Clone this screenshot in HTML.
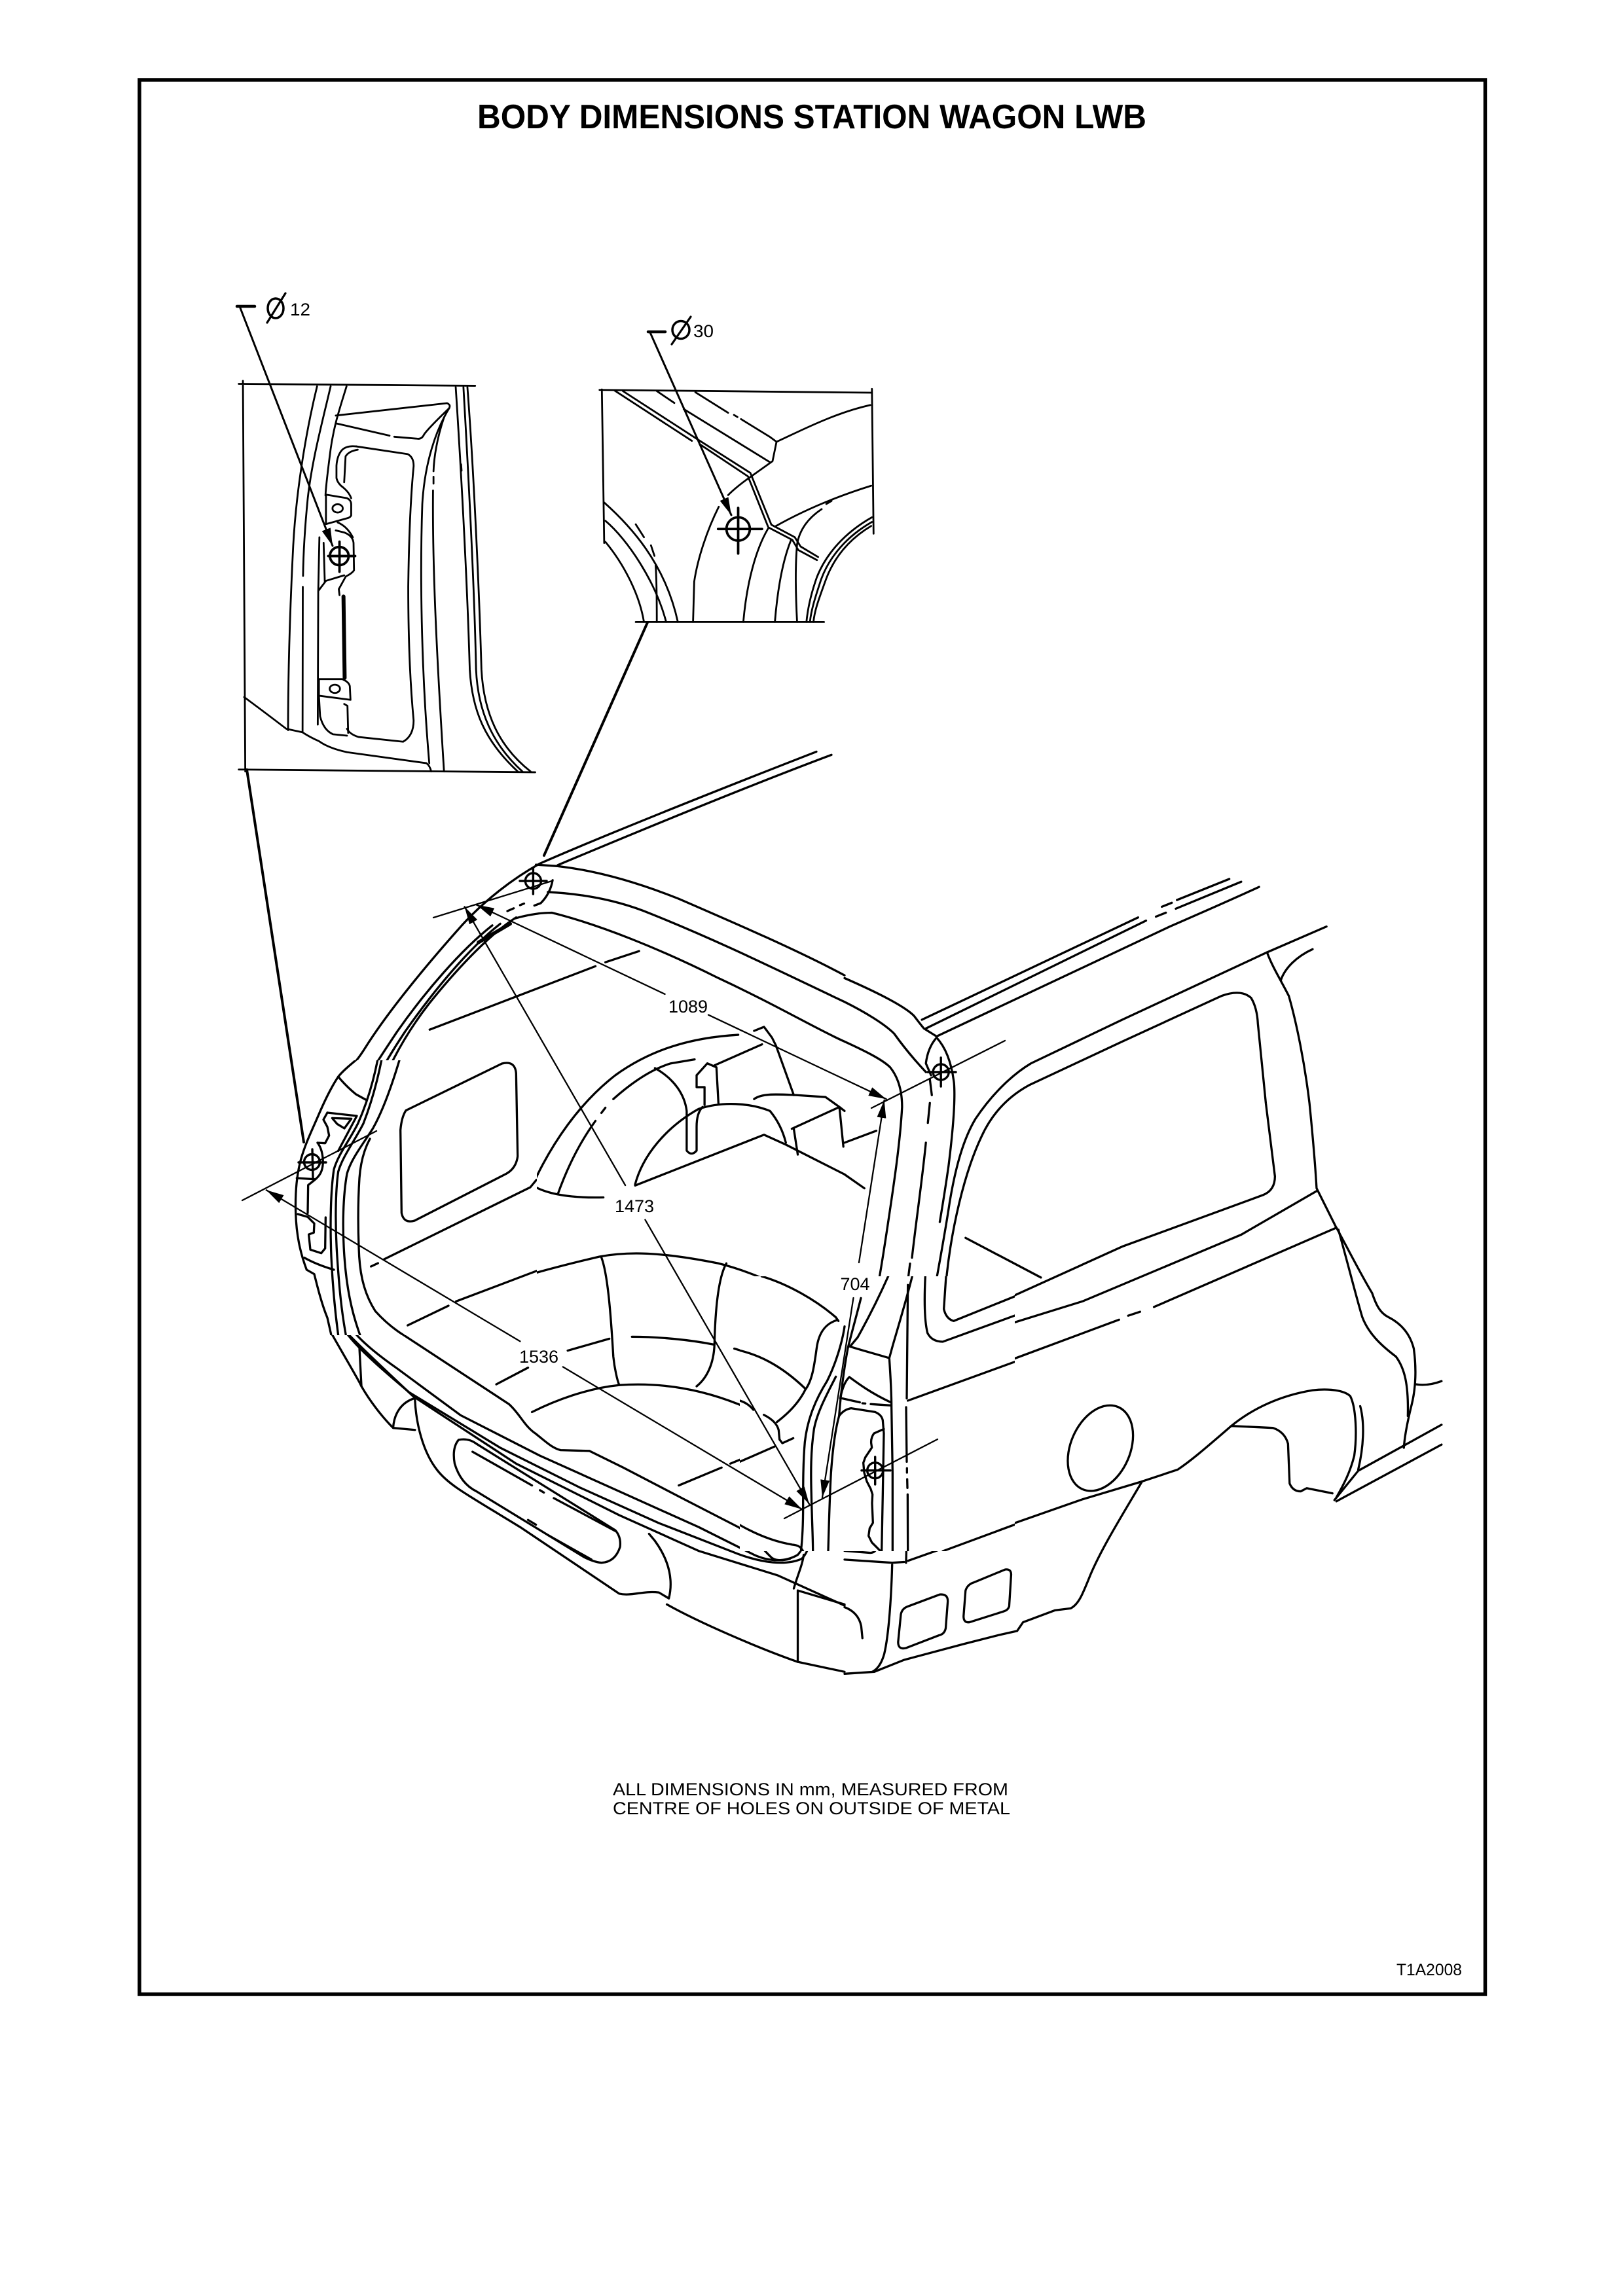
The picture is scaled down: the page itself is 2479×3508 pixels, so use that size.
<!DOCTYPE html>
<html><head><meta charset="utf-8">
<style>
html,body{margin:0;padding:0;background:#fff;}
svg{display:block;}
.s path,.s ellipse,.s circle,.s line{fill:none;stroke:#000;stroke-width:3.3;stroke-linejoin:round;stroke-linecap:round;vector-effect:non-scaling-stroke;}
.i path,.i ellipse,.i circle{stroke-width:2.8;}
.d path{stroke-width:2.3;}
text{font-family:"Liberation Sans",Arial,sans-serif;fill:#000;}
</style></head><body>
<svg width="2479" height="3508" viewBox="0 0 2479 3508" xmlns="http://www.w3.org/2000/svg">
<defs>
<marker id="ar" markerUnits="userSpaceOnUse" markerWidth="32" markerHeight="16" refX="27" refY="7" orient="auto-start-reverse"><path d="M0,0 L27,7 L0,14 Z" fill="#000" stroke="none"/></marker>
<clipPath id="cx"><path clip-rule="evenodd" d="M0,0H2479V3508H0Z M400,1620H820V2040H400Z M1130,1950H1550V2370H1130Z"/></clipPath>
<clipPath id="c11"><rect x="1130" y="1950" width="420" height="420"/></clipPath>
<clipPath id="c12"><rect x="400" y="1620" width="420" height="420"/></clipPath>
</defs>
<rect x="0" y="0" width="2479" height="3508" fill="#fff"/>
<rect x="213" y="122" width="2055.5" height="2925" fill="none" stroke="#000" stroke-width="5.5"/>

<text x="1240" y="196" font-size="52" font-weight="bold" text-anchor="middle" textLength="1022" lengthAdjust="spacingAndGlyphs">BODY DIMENSIONS STATION WAGON LWB</text>

<!-- Inset 1 -->
<g class="s i" transform="translate(330,560) scale(0.357143,0.420875)">
<path d="M97,63 L1108,70 M115,52 L125,1470 M97,1463 L1365,1473"/>
<path d="M432,72 C395,200 345,420 330,650 C315,900 308,1100 308,1320"/>
<path d="M490,72 C455,200 410,340 392,480 C378,600 373,700 372,760 M371,800 L370,1325"/>
<path d="M558,72 C530,150 505,210 490,300 C478,380 470,430 468,468"/>
<path d="M512,178 L988,133 Q1006,140 996,152 C960,182 910,222 890,246 Q880,265 860,262 L762,255 M742,251 L512,206"/>
<path d="M470,465 L560,478 Q578,485 578,500 L578,540 Q575,548 560,551 L470,572 Z"/>
<ellipse cx="520" cy="515" rx="22" ry="15"/>
<path d="M600,290 L820,318 Q846,330 845,362 C835,450 825,600 822,800 C822,1000 830,1150 845,1285 Q845,1340 800,1362 L610,1345 Q572,1335 560,1315"/>
<path d="M600,290 Q560,286 540,302 Q518,322 515,360 L515,405 Q520,425 545,440 Q570,458 578,478"/>
<path d="M606,302 Q568,307 554,326 L548,420"/>
<path d="M512,595 L550,603 Q585,615 588,640 L590,740 Q580,752 555,762 L525,808 L528,830"/>
<path d="M520,566 Q560,580 585,620"/>
<path d="M442,620 L437,820 L435,1300 M460,640 L465,780 M437,815 L470,778 L548,758"/>
<path d="M545,835 L550,1130" style="stroke-width:6"/>
<path d="M440,1135 L540,1135 Q568,1145 572,1160 L575,1210 L440,1195 Z"/>
<ellipse cx="508" cy="1170" rx="22" ry="15"/>
<path d="M440,1195 L445,1270 Q460,1320 500,1335 L560,1340 M548,1225 L562,1232 L565,1330"/>
<path d="M120,1200 Q200,1250 300,1315 L370,1328 Q400,1345 440,1360 Q480,1385 560,1400 L900,1440 Q915,1450 920,1470"/>
<path d="M1025,75 C1050,400 1075,800 1085,1100 C1095,1250 1150,1360 1290,1470"/>
<path d="M1058,75 C1080,400 1105,800 1112,1100 C1120,1250 1180,1370 1310,1470"/>
<path d="M1075,75 C1100,350 1125,800 1135,1100 C1145,1260 1210,1380 1345,1470"/>
<path d="M998,150 C940,230 892,350 882,500 C870,800 882,1150 912,1440"/>
<path d="M975,185 C945,260 932,330 930,380 M930,400 L930,425 M928,450 C925,700 940,1000 975,1470"/>
<path d="M1048,355 L1050,378"/>
<ellipse cx="527" cy="688" rx="40" ry="33" style="stroke-width:3.8"/>
<path d="M480,688 L595,688 M528,636 L528,745" style="stroke-width:3.8"/>
</g>

<!-- Inset 2 -->
<g class="s i" transform="translate(880,460) scale(0.357143)">
<path d="M100,380 L1265,392 M110,378 L120,1035 M1265,376 L1272,995 M255,1373 L1060,1373"/>
<path d="M165,383 L495,598 M200,385 L520,592"/>
<path d="M520,592 L745,735 L835,957 L935,1010 L960,1050 L1035,1095"/>
<path d="M528,612 L735,750 L822,968 L925,1022 L950,1065 L1030,1108"/>
<path d="M345,385 L420,436"/>
<path d="M510,390 L650,478 M675,487 L690,496 M705,505 L830,582 L857,602"/>
<path d="M857,602 L840,685 L760,742 M857,602 C950,560 1100,480 1258,445"/>
<path d="M460,462 L830,690"/>
<path d="M760,742 Q690,790 650,830"/>
<path d="M1262,790 C1150,825 1000,880 850,965"/>
<path d="M1092,855 L1070,868 M1050,890 C990,930 955,980 945,1040 C935,1150 940,1280 945,1373"/>
<path d="M918,1025 C880,1120 860,1250 850,1373"/>
<path d="M1265,925 C1150,990 1070,1080 1030,1180 C1005,1250 990,1320 985,1373"/>
<path d="M1265,945 C1160,1005 1085,1090 1048,1190 C1025,1260 1005,1320 1000,1373"/>
<path d="M1262,962 C1165,1020 1100,1100 1065,1200 C1040,1270 1020,1320 1015,1373"/>
<path d="M820,975 C770,1060 730,1200 715,1373"/>
<path d="M610,880 C560,980 520,1100 505,1200 L500,1373"/>
<path d="M120,862 C230,960 380,1120 435,1373"/>
<path d="M125,940 C220,1020 340,1200 385,1373"/>
<path d="M125,1030 C200,1120 270,1250 290,1373"/>
<path d="M255,955 L290,1010 M320,1045 L335,1090 M340,1130 C345,1200 345,1300 345,1373"/>
<circle cx="693" cy="975" r="50" style="stroke-width:3.8"/>
<path d="M607,975 L795,975 M693,885 L693,1080" style="stroke-width:3.8"/>
</g>

<!-- Car body main groups -->
<g clip-path="url(#cx)">
<g class="s" transform="translate(340,1140) scale(0.605867)">
<path d="M1497,14 C1250,110 950,230 800,296 C730,335 660,390 605,450 C520,545 420,665 360,760 C335,800 315,820 295,830"/>
<path d="M1535,22 C1300,110 1000,235 845,300"/>
<path d="M790,299 L850,303"/>
<path d="M848,303 C950,315 1050,345 1150,385 C1300,450 1450,515 1568,578"/>
<path d="M820,368 C900,372 980,385 1060,415 C1250,490 1420,575 1568,645"/>
<path d="M832,338 Q826,372 802,396 L786,402"/>
<path d="M735,435 C770,425 800,420 830,420 C950,450 1100,510 1250,585 C1400,655 1500,715 1568,745"/>
<path d="M718,416 L734,409 M750,401 L760,397"/>
<path d="M740,432 C680,470 600,550 520,650 C450,740 400,840 375,930 C355,1010 348,1060 347,1089"/>
<path d="M700,448 C620,510 530,620 460,720 C400,810 340,920 318,1000 C305,1040 298,1070 297,1089"/>
<path d="M680,452 C600,515 510,620 440,720 C380,810 320,900 292,980 C282,1030 278,1060 277,1089"/>
<path d="M645,495 L725,448" style="stroke-width:5.5"/>
<path d="M522,715 L940,555 M965,545 L1050,517"/>
<path d="M780,1110 C830,1000 900,900 990,830 C1080,765 1180,735 1300,728"/>
<path d="M845,1130 C870,1060 900,1000 940,945 M955,925 L965,912 M985,890 C1030,850 1080,815 1130,800 L1190,790"/>
<path d="M785,1110 C820,1130 880,1140 960,1138"/>
<path d="M1040,1105 C1060,1030 1120,960 1200,915 C1260,895 1330,900 1380,920 C1405,950 1415,980 1420,1000"/>
<path d="M1090,812 C1140,840 1165,880 1170,920 L1170,1020 Q1182,1035 1195,1020 L1195,960 C1195,935 1200,920 1210,910"/>
<path d="M1040,1108 L1365,980 L1420,1005 L1568,1080"/>
<path d="M1195,830 L1222,800 L1245,810 L1250,900 M1195,830 L1195,860 L1215,860 L1215,905 M1240,805 L1360,752 M1340,718 L1365,708 L1385,735 L1395,755 L1440,880 M1340,890 C1360,875 1400,878 1445,880 L1520,885 L1555,910 L1568,920 M1435,965 L1555,910 M1440,965 L1450,1030 M1555,910 L1565,1010"/>
</g>

<g class="s" transform="translate(1290,1140) scale(0.605867)">
<path d="M195,690 L740,432 M800,405 L825,395 M838,388 L970,335"/>
<path d="M205,712 L760,440 M785,430 L810,420 M835,410 L1000,342"/>
<path d="M232,732 L820,455 C900,420 980,385 1045,355"/>
<path d="M0,585 C80,620 150,655 175,680 Q190,700 200,712 L232,732"/>
<path d="M0,645 C50,670 100,700 125,725 C150,760 175,790 205,822"/>
<path d="M232,735 Q210,760 205,800 L218,830"/>
<path d="M0,745 C50,768 95,790 115,810 C135,835 145,870 145,910 C140,1000 125,1100 110,1200 C95,1300 80,1400 60,1460 Q40,1500 15,1515"/>
<path d="M232,735 C255,760 270,800 276,850 C280,900 272,980 262,1060 C252,1130 245,1170 240,1200"/>
<path d="M1215,455 L1065,520 L700,690 L470,800 C420,830 370,880 330,940 C300,990 280,1060 265,1150 C250,1250 230,1350 215,1440 Q210,1490 245,1510 L600,1400 L1000,1232 L1190,1122"/>
<path d="M280,1445 Q255,1440 250,1415 L258,1330 C270,1220 300,1080 345,985 C370,930 410,885 465,855 L700,745 L950,630 Q1000,612 1025,635 Q1040,660 1042,700 L1062,900 L1085,1085 Q1085,1120 1055,1132 L700,1262 L400,1398 Z"/>
<path d="M1065,520 C1080,560 1100,590 1120,630 C1140,700 1160,800 1172,900 C1182,1000 1188,1080 1190,1115 L1200,1135 L1240,1215"/>
<path d="M1100,590 C1110,560 1140,530 1180,512"/>
<path d="M305,1240 L495,1340"/>
<path d="M0,1000 L80,970 M0,1080 L50,1115"/>
<path d="M215,840 L220,880 M215,900 L210,950 M205,1000 C195,1100 180,1200 170,1290 M165,1305 L160,1345 M158,1360 L155,1568"/>
</g>

<g class="s" transform="translate(340,1800) scale(0.605867)">
<path d="M345,0 L350,260 C360,300 390,340 440,385 L600,490 L722,570 C750,595 760,625 790,645 C815,665 830,680 852,686 L925,688 L1010,730 L1160,808 L1300,880 C1340,905 1360,935 1385,958 Q1400,968 1430,960"/>
<path d="M297,0 L300,330 C310,370 340,410 440,480 L600,598 L800,700 L1000,790 L1200,880 L1340,950 C1380,968 1420,968 1450,950 C1468,930 1475,900 1475,850 L1478,780"/>
<path d="M277,0 L280,330 C300,390 340,430 470,540 L700,680 L900,780 L1100,870 L1300,948 C1360,970 1420,978 1460,960 C1480,940 1488,900 1488,850 L1490,780"/>
<path d="M255,0 L265,330 C290,370 320,400 480,550 L740,720 L1000,850 L1200,940 L1400,1002 L1568,1078"/>
<path d="M185,0 L185,90 C190,140 200,190 215,230 C230,290 250,330 268,380 C290,420 320,470 345,515 L350,525"/>
<path d="M345,430 L350,525 C370,560 400,600 430,630 M430,630 C432,595 450,565 485,555 M430,630 L485,635"/>
<path d="M485,560 C488,620 505,690 540,735 C570,775 620,800 750,880 L1000,1048 C1030,1055 1060,1040 1100,1045 L1125,1060 C1135,1020 1130,970 1090,915 L1075,897"/>
<path d="M1120,1075 C1200,1120 1350,1185 1450,1220 L1568,1245"/>
<path d="M1450,1040 L1450,1220 M1440,1035 C1450,1000 1462,975 1465,950 M1450,1040 L1568,1075"/>
<path d="M595,660 Q620,655 640,670 L990,888 Q1005,905 1002,930 Q990,968 955,970 Q935,968 910,955 L640,790 Q600,770 585,720 Q578,680 595,660 Z"/>
<path d="M630,690 L780,775 M800,787 L810,793 M835,807 L990,890 M770,862 L790,874 M820,900 L930,962"/>
<path d="M590,310 C650,280 750,245 950,198 C1020,185 1100,185 1250,215 C1350,240 1450,290 1550,355"/>
<path d="M780,590 C840,560 920,530 1000,522 C1100,515 1200,530 1300,570 C1350,590 1380,610 1400,625"/>
<path d="M955,200 C970,240 978,330 985,450 C988,480 995,510 1000,522"/>
<path d="M1270,215 C1250,250 1242,330 1240,420 C1238,470 1220,505 1195,525"/>
<path d="M1032,400 C1100,400 1180,408 1240,420 M870,435 L975,405 M1290,430 C1360,450 1440,490 1500,530"/>
<path d="M1395,620 C1440,600 1475,570 1490,520 C1500,470 1500,420 1520,380 Q1535,360 1555,350"/>
<path d="M465,370 L570,322 M690,520 L770,478 M1150,775 L1258,730 M1280,720 L1440,655"/>
</g>

<g class="s" transform="translate(1290,1800) scale(0.605867)">
<path d="M1240,125 L780,325 M745,337 L715,347 M692,357 L160,555"/>
<path d="M1240,125 C1270,180 1300,240 1330,290 C1340,320 1350,340 1370,350 C1400,365 1425,390 1435,430 C1442,480 1440,530 1430,570 C1420,610 1412,650 1410,680"/>
<path d="M1245,130 C1270,220 1290,300 1305,350 C1320,390 1350,420 1390,450 C1412,480 1422,520 1420,600"/>
<path d="M1440,520 Q1470,525 1505,512"/>
<path d="M1235,812 L1295,738 L1505,622 M1240,815 L1505,672"/>
<path d="M750,765 L840,735 C870,715 900,690 975,625 L1080,630 Q1110,640 1118,670 L1122,770 Q1130,790 1150,790 L1165,782 L1230,795"/>
<path d="M975,625 C1030,580 1100,548 1180,535 C1220,530 1260,535 1275,550 C1290,580 1292,650 1285,700 C1275,740 1260,770 1240,805"/>
<path d="M1300,575 C1312,620 1308,680 1295,735"/>
<ellipse cx="645" cy="681" rx="113" ry="75" transform="rotate(-66.5 645 681)"/>
<path d="M160,965 L400,880 L600,810 L750,765"/>
<path d="M750,765 C700,850 650,930 620,1000 C600,1050 590,1075 570,1085 L530,1090 L450,1120 L435,1142 L390,1152 L300,1175 L150,1215 L75,1245 L0,1250"/>
<path d="M0,962 L120,970 L150,968 M120,975 C118,1050 112,1150 100,1200 Q90,1235 70,1245"/>
<path d="M160,1080 L240,1050 Q262,1048 260,1070 L255,1135 Q252,1150 238,1153 L155,1185 Q135,1190 135,1170 L142,1100 Q145,1085 160,1080 Z"/>
<path d="M325,1020 L405,987 Q420,985 420,1000 L415,1080 Q412,1090 400,1093 L315,1120 Q300,1122 300,1105 L305,1040 Q310,1025 325,1020 Z"/>
<path d="M0,1082 Q35,1095 42,1130 L45,1160"/>
<path d="M156,930 L155,970"/>
<path d="M0,940 L65,945 Q78,945 82,930"/>
</g>
</g>

<!-- Detail: right rear corner -->
<g clip-path="url(#c11)">
<g class="s" transform="translate(1130,1950) scale(0.333333)">
<path d="M100,0 C220,35 350,110 440,188 L452,205"/>
<path d="M448,200 C395,215 362,255 352,330 C340,420 330,480 300,520 C270,580 220,630 170,668"/>
<path d="M0,340 C80,360 180,400 300,515"/>
<path d="M0,570 C25,578 45,590 62,612"/>
<path d="M110,635 C150,655 172,680 178,705 L182,748 L195,765 L245,742"/>
<path d="M0,850 L160,780"/>
<path d="M0,1140 C70,1180 150,1215 240,1230 C265,1232 280,1240 290,1260"/>
<path d="M480,230 C470,300 440,400 400,480 C350,560 310,650 298,760 C290,850 290,950 290,1050 C290,1150 285,1220 280,1260"/>
<path d="M440,460 C400,540 355,620 340,700 C325,800 325,900 328,1000 C330,1100 335,1200 335,1260"/>
<path d="M680,0 C640,90 590,190 540,280 L505,322"/>
<path d="M505,322 C560,340 620,355 685,375"/>
<path d="M790,0 C760,120 720,250 700,320 L685,375"/>
<path d="M685,375 C690,450 695,550 695,600 L700,900 L700,1260"/>
<path d="M770,40 L765,560 M762,600 L765,850 M766,880 L766,900 M767,930 L768,970 M769,1000 L770,1260"/>
<path d="M555,100 C535,180 512,260 495,330 C478,420 462,540 455,640"/>
<path d="M455,640 C470,620 490,608 510,605 L620,622 Q650,635 655,660 L660,720 L655,1000 L650,1260 M455,640 C438,700 425,800 418,900 C412,1000 408,1150 405,1260"/>
<path d="M660,700 L615,720 Q600,740 602,765 L605,785 L575,830 L566,855 L570,900 L582,940 L600,975 L608,1000 L606,1040 L610,1130 L595,1155 L590,1190 L605,1220 L625,1240 L645,1260"/>
<path d="M502,462 C540,490 600,535 692,578"/>
<path d="M470,560 L550,578 M562,582 L575,583 M600,586 L692,592"/>
<path d="M502,462 C482,480 468,520 460,560"/>
<path d="M850,0 C845,100 845,200 860,260 Q880,300 930,300 L1260,180"/>
<path d="M945,0 L935,150 Q945,195 980,205 L1260,92"/>
<path d="M770,570 L1260,392"/>
<path d="M930,1260 L1260,1138"/>
</g>
</g>

<!-- Detail: left rear corner -->
<g clip-path="url(#c12)">
<g class="s" transform="translate(400,1620) scale(0.333333)">
<path d="M430,0 C400,25 370,50 350,75 C320,120 290,180 260,250 C230,320 200,380 180,450 C160,520 152,600 155,700 C158,800 175,880 205,960 L240,980 C255,1040 275,1120 300,1180 L318,1260"/>
<path d="M350,75 C370,100 400,130 430,155 L475,180"/>
<path d="M300,240 L435,255 L350,415"/>
<path d="M322,265 L410,268 L378,312 L345,292 Z"/>
<path d="M300,240 L282,272 L300,305 L308,345 L290,380 L255,378"/>
<path d="M255,378 C268,395 280,420 280,470 C278,510 265,530 240,550 L212,572 L210,700"/>
<path d="M160,540 L240,545"/>
<path d="M165,705 L210,718 L240,748 L238,790 L215,798 M215,800 L222,868 L272,884 L290,862 L292,720"/>
<path d="M195,905 C230,925 280,945 330,960"/>
<path d="M530,0 C510,100 480,200 440,290 C400,370 350,430 330,500 C315,600 312,750 318,900 C325,1050 335,1150 350,1260"/>
<path d="M548,0 C528,100 500,200 465,290 C425,370 370,440 350,510 C337,600 335,750 345,900 C355,1050 365,1150 385,1260"/>
<path d="M630,0 C600,100 560,220 510,310 C460,390 410,450 390,520 C372,620 368,760 378,900 C388,1040 410,1150 450,1260"/>
<path d="M495,360 C468,410 452,470 447,540 C440,650 440,780 446,900 C452,1000 475,1080 520,1150 C565,1200 610,1235 650,1260"/>
<path d="M660,230 L1100,15 Q1160,0 1165,60 L1172,440 Q1165,495 1120,520 L700,735 Q650,750 640,700 L635,320 Q640,260 660,230 Z"/>
<path d="M560,912 L1230,582 L1258,548"/>
<path d="M500,945 L532,930 M668,1215 L855,1125 M890,1105 L1260,965"/>
</g>
</g>

<!-- Leaders from insets -->
<g class="s">
<path d="M377,1176 L464,1745" style="stroke-width:4"/>
<path d="M989,951 L831,1307" style="stroke-width:4"/>
<path d="M362,468 L389,468" style="stroke-width:4.5"/>
<path d="M366,468 L508,834" marker-end="url(#ar)" style="stroke-width:3"/>
<path d="M990,507 L1016,507" style="stroke-width:4.5"/>
<path d="M993,508 L1117,787" marker-end="url(#ar)" style="stroke-width:3"/>
<ellipse cx="421" cy="471" rx="12" ry="15" style="stroke-width:3.5"/>
<path d="M408,493 L436,448" style="stroke-width:3.2"/>
<ellipse cx="1040" cy="504" rx="13" ry="13.5" style="stroke-width:3.5"/>
<path d="M1026,526 L1055,484" style="stroke-width:3.2"/>
</g>
<text x="443" y="482" font-size="27" textLength="31" lengthAdjust="spacingAndGlyphs">12</text>
<text x="1059" y="515" font-size="27" textLength="31" lengthAdjust="spacingAndGlyphs">30</text>

<!-- Dimension lines -->
<g class="s d">
<path d="M727.8,1382.4 L1015.6,1518.9" marker-start="url(#ar)"/>
<path d="M1082,1550.6 L1353.6,1679.2" marker-end="url(#ar)"/>
<path d="M709.6,1385.4 L955.1,1811" marker-start="url(#ar)"/>
<path d="M985.4,1863.6 L1236,2298" marker-end="url(#ar)"/>
<path d="M406.7,1818.3 L794.4,2049.4" marker-start="url(#ar)"/>
<path d="M859.8,2088.4 L1225,2306" marker-end="url(#ar)"/>
<path d="M1350.6,1681 L1312,1929" marker-start="url(#ar)"/>
<path d="M1303.5,1983 L1256,2288" marker-end="url(#ar)"/>
<path d="M662,1402 L843,1346"/>
<path d="M370,1834 L575,1728"/>
<path d="M1331,1693 L1535,1590"/>
<path d="M1198,2320 L1432,2199"/>
</g>

<!-- Crosshairs on body -->
<g class="s">
<circle cx="814.4" cy="1346" r="12" style="stroke-width:3.4"/>
<path d="M794,1346 L835,1346 M814.4,1326 L814.4,1366" style="stroke-width:3.4"/>
<circle cx="476.5" cy="1775.5" r="12" style="stroke-width:3.4"/>
<path d="M456,1776 L498,1776 M477,1756 L478,1800" style="stroke-width:3.4"/>
<circle cx="1437.2" cy="1638" r="12" style="stroke-width:3.4"/>
<path d="M1417,1638 L1460,1638 M1437.2,1616 L1437.2,1660" style="stroke-width:3.4"/>
<circle cx="1336.7" cy="2246.7" r="12" style="stroke-width:3.4"/>
<path d="M1316,2246.7 L1360,2246.7 M1336.7,2226 L1336.7,2268" style="stroke-width:3.4"/>
</g>

<text x="1051" y="1547" font-size="27" text-anchor="middle">1089</text>
<text x="969" y="1852" font-size="27" text-anchor="middle">1473</text>
<text x="823" y="2082" font-size="27" text-anchor="middle">1536</text>
<text x="1306" y="1971" font-size="27" text-anchor="middle">704</text>

<text x="936" y="2743" font-size="27" textLength="604" lengthAdjust="spacingAndGlyphs">ALL DIMENSIONS IN mm, MEASURED FROM</text>
<text x="936" y="2772" font-size="27" textLength="607" lengthAdjust="spacingAndGlyphs">CENTRE OF HOLES ON OUTSIDE OF METAL</text>
<text x="2133" y="3018" font-size="25" textLength="100" lengthAdjust="spacingAndGlyphs">T1A2008</text>
</svg>
</body></html>
